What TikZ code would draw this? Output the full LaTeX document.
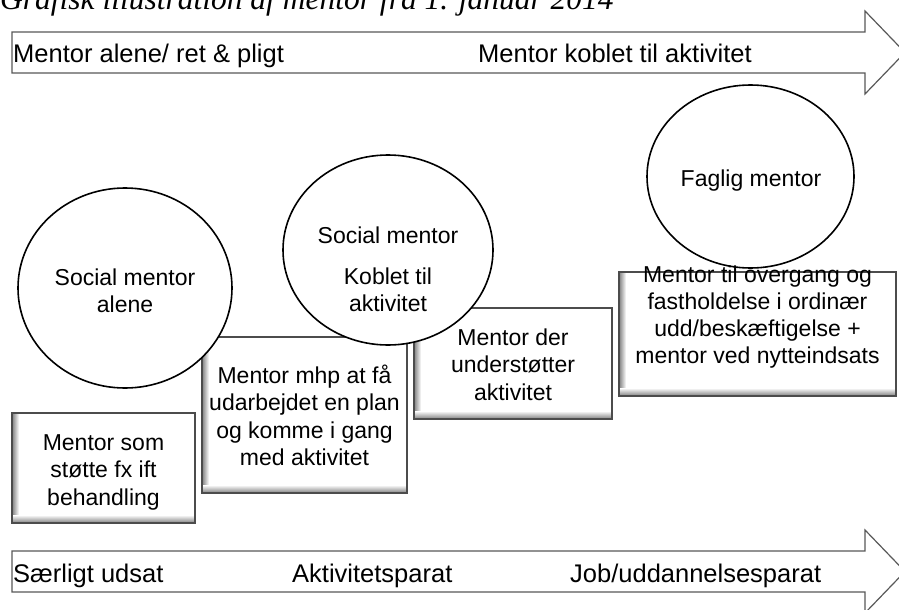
\documentclass[tikz,border=0pt]{standalone}
\usepackage{fontspec}
\setmainfont{Liberation Sans}
\newfontfamily\titlefont{Liberation Serif}
\newcommand\shbox[5]{%
  \fill[white] (#1,#2) rectangle (#3,#4);
  \shade[left color=black!50, right color=white] (#1,#2) rectangle ({#1+7},#4);
  \shade[bottom color=black!50, top color=white] (#1,{#4-8}) rectangle (#3,#4);
  \draw[boxframe] (#1,#2) rectangle (#3,#4);
  \coordinate (#5) at ({(#1+#3)/2},{(#2+#4)/2});
}
\begin{document}
\begin{tikzpicture}[x=1pt,y=-1pt,
  arrowshape/.style={draw=black!65, line width=1.2pt, fill=white, line join=miter},
  circ/.style={draw=black, line width=1.6pt, fill=white},
  boxframe/.style={draw=black!70, line width=1.5pt},
  arrlbl/.style={font=\fontsize{25.5}{30}\selectfont, anchor=base west, inner sep=0pt},
  boxtext/.style={font=\fontsize{23}{27.5}\selectfont, align=center, anchor=base, inner sep=0pt},
  titletext/.style={font=\fontsize{31.5}{36}\selectfont\titlefont\itshape, anchor=base west, inner sep=0pt}]
\useasboundingbox (0,0) rectangle (899,610);
\clip (0,0) rectangle (899,610);
\fill[white] (0,0) rectangle (899,610);

% title
\node[titletext] (title) at (0,10) {Grafisk illustration af mentor fra 1. januar 2014};

% arrows
\draw[arrowshape] (12,32) -- (865,32) -- (865,11) -- (905,52.5) -- (865,94) -- (865,73) -- (12,73) -- cycle;
\draw[arrowshape] (12,551) -- (865,551) -- (865,530) -- (905,571.5) -- (865,613) -- (865,592) -- (12,592) -- cycle;
\node[arrlbl] (t1) at (13,63) {Mentor alene/ ret \& pligt};
\node[arrlbl] (t2) at (478,63) {Mentor koblet til aktivitet};
\node[arrlbl] (b1) at (13,582) {Særligt udsat};
\node[arrlbl] (b2) at (292,582) {Aktivitetsparat};
\node[arrlbl] (b3) at (570,582) {Job/uddannelsesparat};

% boxes
\shbox{12}{413}{195}{523}{box1}
\shbox{202}{337}{407}{493}{box2}
\shbox{414}{308}{612}{419}{box3}
\shbox{619}{272}{896}{396}{box4}

% circles
\draw[circ] (125,288) ellipse [x radius=107, y radius=100];
\draw[circ] (388,250) ellipse [x radius=105, y radius=95];
\draw[circ] (750.5,176.5) ellipse [x radius=103.5, y radius=91.5];

% circle texts (anchor base = baseline of last line)
\node[boxtext] (c1) at (125,312.5) {Social mentor\\alene};
\node[boxtext] (c2a) at (388,243) {Social mentor};
\node[boxtext] (c2b) at (388,311.5) {Koblet til\\aktivitet};
\node[boxtext] (c3) at (751,186) {Faglig mentor};

% box texts
\node[boxtext] (x1) at (103.5,505) {Mentor som\\støtte fx ift\\behandling};
\node[boxtext] (x2) at (304.5,465.5) {Mentor mhp at få\\udarbejdet en plan\\og komme i gang\\med aktivitet};
\node[boxtext] (x3) at (513,400) {Mentor der\\understøtter\\aktivitet};
\node[boxtext, font=\fontsize{23}{26.7}\selectfont] (x4) at (757.5,363) {Mentor til overgang og\\fastholdelse i ordinær\\udd/beskæftigelse +\\mentor ved nytteindsats};
\end{tikzpicture}
\end{document}
